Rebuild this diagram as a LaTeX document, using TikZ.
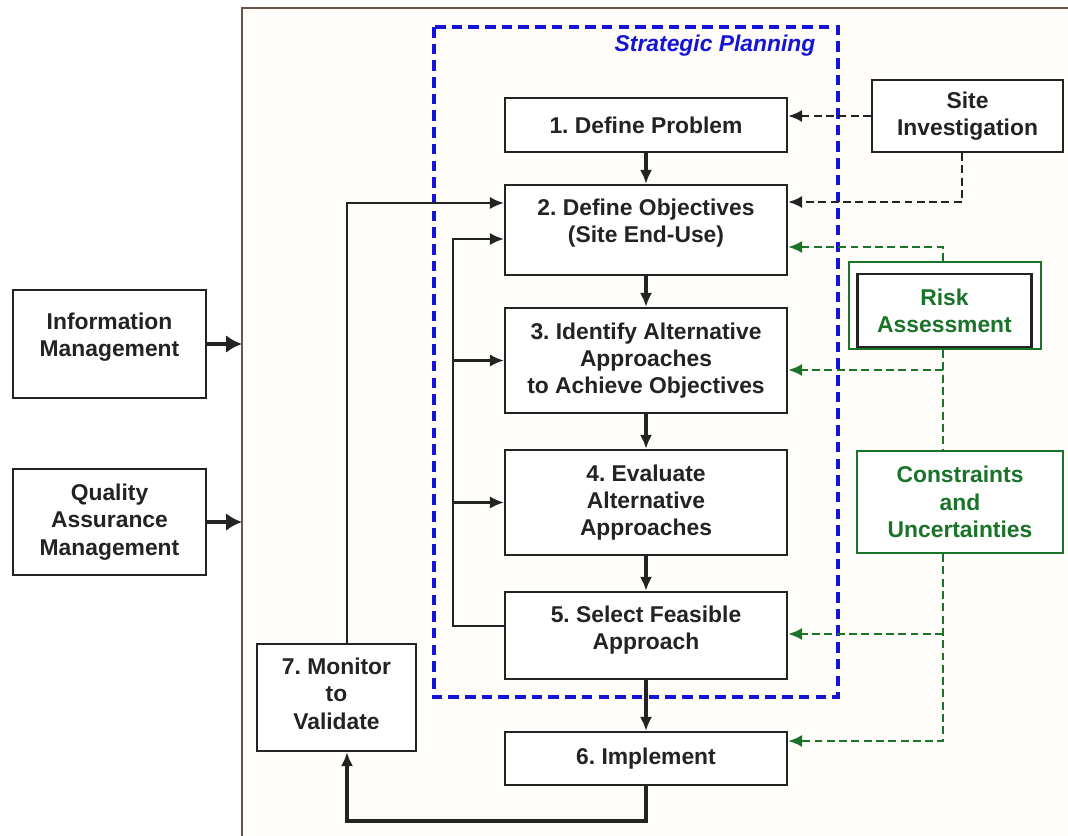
\documentclass[tikz,border=0pt]{standalone}
\usepackage{fontspec}
\setmainfont{Liberation Sans}
\usetikzlibrary{arrows.meta}
\definecolor{inkgray}{RGB}{35,35,35}
\definecolor{riskgreen}{RGB}{25,115,40}
\definecolor{planblue}{RGB}{20,20,215}
\definecolor{framebrown}{RGB}{105,85,75}
\definecolor{paper}{RGB}{255,253,250}
\newcommand{\lowpad}[1]{\rule[-#1]{0pt}{0pt}}
\frenchspacing
\begin{document}
\begin{tikzpicture}[x=0.02cm, y=-0.02cm,
  every node/.style={font=\bfseries\fontsize{13}{15.5}\selectfont, text=inkgray, align=center},
  stepbox/.style={draw=inkgray, line width=1.3pt, fill=white, minimum width=5.64cm, inner sep=2pt},
  sidebox/.style={draw=inkgray, line width=1.3pt, fill=white, inner sep=2pt},
  greenbox/.style={draw=riskgreen, line width=1.3pt, fill=white, text=riskgreen, inner sep=2pt},
  flow/.style={-{Latex[length=8pt,width=7pt]}, line width=1.8pt, draw=inkgray},
  backline/.style={-{Latex[length=8pt,width=7pt]}, line width=1.3pt, draw=inkgray},
  feed/.style={-{Latex[length=8pt,width=7pt]}, line width=1.5pt, draw=inkgray, dash pattern=on 4.5pt off 2.5pt},
  gfeed/.style={-{Latex[length=8pt,width=7pt]}, line width=1.5pt, draw=riskgreen, dash pattern=on 4.5pt off 2.5pt},
  gline/.style={line width=1.3pt, draw=riskgreen, dash pattern=on 4.5pt off 2.5pt},
  bigarrow/.style={-{Latex[length=9pt,width=10pt]}, line width=2.8pt, draw=inkgray}]
  \useasboundingbox (0,0) rectangle (1068,835);
  \clip (0,0) rectangle (1068,835);
  % frame and planning area
  \draw[framebrown, line width=1.4pt, fill=paper] (242,8) rectangle (1090,850);
  \draw[planblue, line width=2pt, dash pattern=on 6pt off 3.5pt] (434,27) rectangle (838,697);
  \node[text=planblue, font=\bfseries\itshape\fontsize{13}{15.5}\selectfont] (plantitle) at (715,46) {Strategic Planning};
  % steps
  \node[stepbox, minimum height=1.08cm] (p1) at (646,125) {1. Define Problem};
  \node[stepbox, minimum height=1.8cm] (p2) at (646,230) {2. Define Objectives\\(Site End-Use)\lowpad{0.36cm}};
  \node[stepbox, minimum height=2.1cm] (p3) at (646,360.5) {3. Identify Alternative\\Approaches\\to Achieve Objectives};
  \node[stepbox, minimum height=2.1cm] (p4) at (646,502.5) {4. Evaluate\\Alternative\\Approaches};
  \node[stepbox, minimum height=1.74cm] (p5) at (646,635.5) {5. Select Feasible\\Approach\lowpad{0.32cm}};
  \node[stepbox, minimum height=1.06cm] (p6) at (646,758.5) {6. Implement};
  \node[sidebox, minimum width=3.18cm, minimum height=2.14cm] (p7) at (336.5,697.5) {7. Monitor\\to\\Validate\lowpad{0.16cm}};
  % side boxes
  \node[sidebox, minimum width=3.82cm, minimum height=1.44cm] (site) at (967.5,116) {Site\\Investigation};
  \node[draw=riskgreen, line width=1.3pt, fill=white, minimum width=3.84cm, minimum height=1.74cm] (riskout) at (945,305.5) {};
  \node[greenbox, draw=inkgray, minimum width=3.48cm, minimum height=1.46cm] (risk) at (944.5,310.5) {Risk\\Assessment};
  \node[greenbox, minimum width=4.12cm, minimum height=2.04cm] (cons) at (960,502) {Constraints\\and\\Uncertainties};
  \node[sidebox, minimum width=3.86cm, minimum height=2.16cm] (info) at (109.5,344) {Information\\Management\lowpad{0.36cm}};
  \node[sidebox, minimum width=3.86cm, minimum height=2.12cm] (qa) at (109.5,522) {Quality\\Assurance\\Management};
  % bends
  \coordinate (framel) at (242,0);
  \coordinate (sbend) at (962,202);
  \coordinate (gtop) at (943,247);
  \coordinate (g3) at (943,370);
  \coordinate (g5) at (943,634);
  \coordinate (gbot) at (943,741);
  \coordinate (fbtop) at (453,239);
  \coordinate (fbbot) at (453,626);
  \coordinate (mtop) at (347,203);
  \coordinate (mbot) at (347,821);
  % main flow
  \draw[flow] (p1) -- (p2);
  \draw[flow] (p2) -- (p3);
  \draw[flow] (p3) -- (p4);
  \draw[flow] (p4) -- (p5);
  \draw[flow] (p5) -- (p6);
  \draw[flow] (p6.south) |- (mbot) -- (mbot |- p7.south);
  \draw[backline] (mtop |- p7.north) -- (mtop) -- (mtop -| p2.west);
  \draw[backline] (fbbot -| p5.west) -- (fbbot) -- (fbtop) -- (fbtop -| p2.west);
  \draw[backline] (fbtop |- p3.west) -- (p3.west);
  \draw[backline] (fbtop |- p4.west) -- (p4.west);
  % site investigation
  \draw[feed] (site.west) -- (site.west -| p1.east);
  \draw[feed] (sbend |- site.south) -- (sbend) -- (sbend -| p2.east);
  % risk and constraints
  \draw[gfeed] (gtop |- riskout.north) -- (gtop) -- (gtop -| p2.east);
  \draw[gline] (gtop |- riskout.south) -- (gtop |- cons.north);
  \draw[gfeed] (g3) -- (g3 -| p3.east);
  \draw[gfeed] (gbot |- cons.south) -- (gbot) -- (gbot -| p6.east);
  \draw[gfeed] (g5) -- (g5 -| p5.east);
  % management inputs
  \draw[bigarrow] (info.east) -- (info.east -| framel);
  \draw[bigarrow] (qa.east) -- (qa.east -| framel);
\end{tikzpicture}
\end{document}
